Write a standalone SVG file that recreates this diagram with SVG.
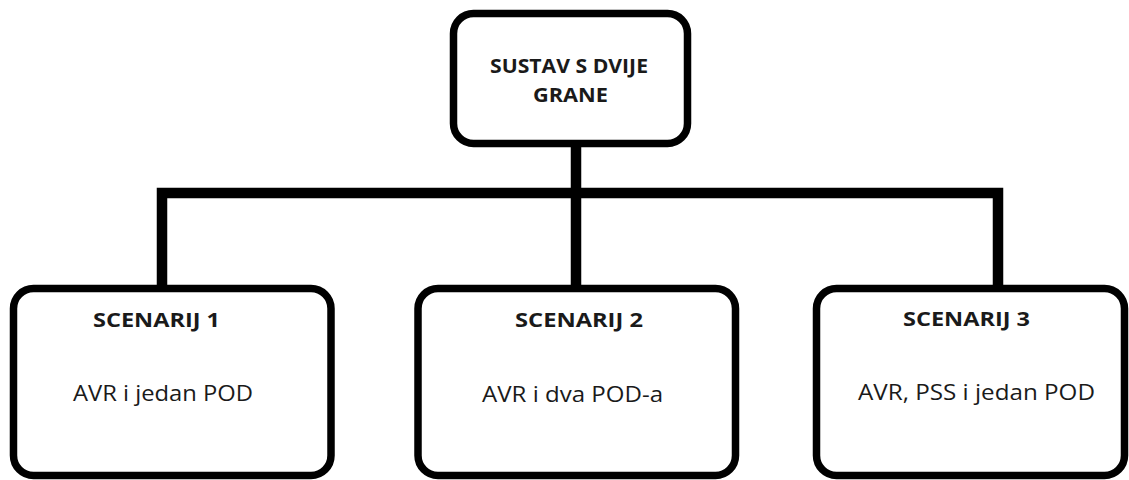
<svg xmlns="http://www.w3.org/2000/svg" width="1129" height="480" viewBox="0 0 1129 480">
<style>
.box{fill:#fff;stroke:#000;stroke-width:7.5}
.conn{fill:none;stroke:#000;stroke-width:10.5;stroke-linejoin:miter;stroke-linecap:butt}
.t{font-family:"Open Sans","Liberation Sans",sans-serif;fill:#1a1a1a}
.b{font-weight:bold;font-size:20px}
.r{font-size:22px}
</style>
<rect width="1129" height="480" fill="#fff"/>
<g id="connectors">
<path class="conn" d="M162,287 V193 H998 V287"/>
<path class="conn" d="M576,143 V287"/>
</g>
<g id="root">
<rect class="box" x="453.5" y="13.5" width="234" height="130" rx="20"/>
<text class="t b" x="490" y="73" textLength="158" lengthAdjust="spacingAndGlyphs">SUSTAV S DVIJE</text>
<text class="t b" x="533" y="102" textLength="75" lengthAdjust="spacingAndGlyphs">GRANE</text>
</g>
<g id="scenarij1">
<rect class="box" x="13.5" y="288.5" width="317.5" height="187" rx="20"/>
<text class="t b" x="93" y="327" textLength="127" lengthAdjust="spacingAndGlyphs">SCENARIJ 1</text>
<text class="t r" x="73" y="401" textLength="180" lengthAdjust="spacingAndGlyphs">AVR i jedan POD</text>
</g>
<g id="scenarij2">
<rect class="box" x="418" y="288.5" width="317.5" height="187" rx="20"/>
<text class="t b" x="515" y="327" textLength="128" lengthAdjust="spacingAndGlyphs">SCENARIJ 2</text>
<text class="t r" x="482" y="402" textLength="181" lengthAdjust="spacingAndGlyphs">AVR i dva POD-a</text>
</g>
<g id="scenarij3">
<rect class="box" x="816.5" y="288.5" width="308" height="187" rx="20"/>
<text class="t b" x="903" y="326" textLength="127" lengthAdjust="spacingAndGlyphs">SCENARIJ 3</text>
<text class="t r" x="858" y="400" textLength="237" lengthAdjust="spacingAndGlyphs">AVR, PSS i jedan POD</text>
</g>
</svg>
